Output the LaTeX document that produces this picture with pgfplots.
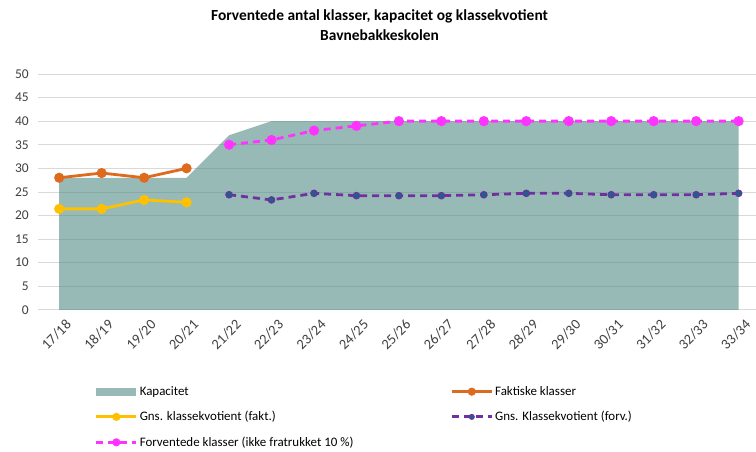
\documentclass[border=0pt]{standalone}
\usepackage{fontspec}
\setmainfont{Carlito}
\usepackage{pgfplots}
\pgfplotsset{compat=1.18}

\definecolor{kap}{RGB}{82,140,133}
\definecolor{fakt}{RGB}{222,106,30}
\definecolor{gul}{RGB}{255,192,0}
\definecolor{lilla}{RGB}{112,48,160}
\definecolor{blaa}{RGB}{40,90,140}
\definecolor{pink1}{RGB}{255,51,255}
\definecolor{gitter}{RGB}{217,217,217}

\begin{document}
\begin{tikzpicture}
\begin{axis}[
    scale only axis,
    width=718bp, height=236bp,
    xmin=-0.5, xmax=16.4,
    ymin=0, ymax=50,
    xtick={0,...,16},
    xticklabels={17/18,18/19,19/20,20/21,21/22,22/23,23/24,24/25,25/26,26/27,27/28,28/29,29/30,30/31,31/32,32/33,33/34},
    ytick={0,5,...,50},
    ymajorgrids,
    grid style={gitter, line width=0.8bp},
    axis line style={draw=none},
    major tick length=0pt,
    tick label style={font=\fontsize{13.5}{15}\selectfont, text=black!75},
    yticklabel style={inner sep=1bp, xshift=-8bp},
    xticklabel style={font=\fontsize{14.5}{16}\selectfont, rotate=45, anchor=north east,
        inner sep=1bp, yshift=-9bp, xshift=-1bp},
    /pgf/number format/assume math mode=true,
    title={Forventede antal klasser, kapacitet og klassekvotient\\Bavnebakkeskolen},
    title style={font=\bfseries\fontsize{15.5}{20}\selectfont, align=center,
        at={(axis description cs:0.476,1)}, anchor=south, yshift=24bp},
    legend style={draw=none, fill=none, at={(axis description cs:0.075,-0.307)},
        anchor=north west, font=\fontsize{13}{15}\selectfont,
        row sep=10.5bp, legend columns=2,
        /tikz/every even column/.append style={column sep=95bp}},
    legend cell align=left,
    legend image code/.code={\draw[mark repeat=2, mark phase=2, mark size=2.6bp] plot coordinates {(0bp,0bp)(20bp,0bp)(40bp,0bp)};},
]
\coordinate (A) at (rel axis cs:0,0);

% Kapacitet
\addplot[draw=none, fill=kap, fill opacity=0.6,
    legend image code/.code={\fill[kap, fill opacity=0.6] (0bp,-4bp) rectangle (40bp,4bp);}]
coordinates {
    (0,28) (1,28) (2,28) (3,28) (4,37) (5,40) (6,40) (7,40) (8,40)
    (9,40) (10,40) (11,40) (12,40) (13,40) (14,40) (15,40) (16,40)
} \closedcycle;
\addlegendentry{Kapacitet}

% Faktiske klasser
\addplot[fakt, line width=2.8bp, mark=*, mark size=3.6bp]
coordinates {(0,28) (1,29) (2,28) (3,30)};
\addlegendentry{Faktiske klasser}

% Gns. klassekvotient (fakt.)
\addplot[gul, line width=2.8bp, mark=*, mark size=3.6bp]
coordinates {(0,21.4) (1,21.4) (2,23.3) (3,22.8)};
\addlegendentry{Gns. klassekvotient (fakt.)}

% Gns. Klassekvotient (forv.)
\addplot[lilla, line width=2.8bp, dash pattern=on 7bp off 5bp,
    mark=*, mark size=3.4bp, mark options={solid, fill=blaa, draw=lilla, line width=0.8bp}]
coordinates {
    (4,24.4) (5,23.3) (6,24.7) (7,24.2) (8,24.2) (9,24.2) (10,24.4)
    (11,24.7) (12,24.7) (13,24.4) (14,24.4) (15,24.4) (16,24.7)
};
\addlegendentry{Gns. Klassekvotient (forv.)}

% Forventede klasser
\addplot[pink1, line width=2.8bp, dash pattern=on 7bp off 5bp,
    mark=*, mark size=3.6bp, mark options={solid}]
coordinates {
    (4,35) (5,36) (6,38) (7,39) (8,40) (9,40) (10,40) (11,40) (12,40)
    (13,40) (14,40) (15,40) (16,40)
};
\addlegendentry{Forventede klasser (ikke fratrukket 10 \%)}
\end{axis}
\path[use as bounding box] (A) ++(-38bp,-135bp) rectangle ++(756bp,445bp);
\end{tikzpicture}
\end{document}
